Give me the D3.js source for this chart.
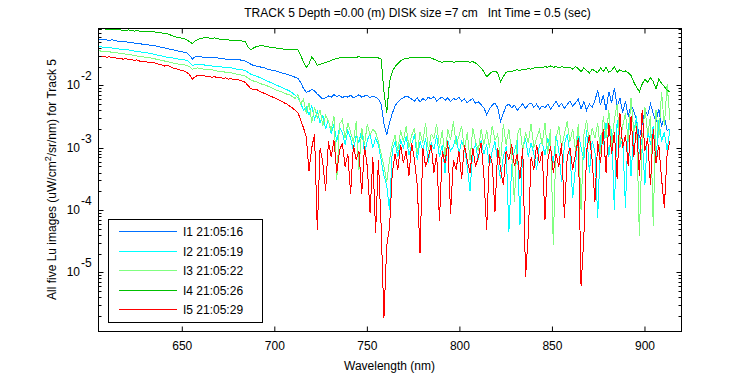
<!DOCTYPE html>
<html>
<head>
<meta charset="utf-8">
<script src="https://cdn.jsdelivr.net/npm/d3@7"></script>
<style>
  body { margin: 0; background: #fff; }
  svg text { font-family: "Liberation Sans", Arial, sans-serif; fill: #000; }
</style>
</head>
<body>
<div id="chart"></div>
<script>
// Wavelength grid (nm) and the five spectra, stored as log10 of Lu
const wavelength = d3.range(605, 915, 1.5);
const seriesNames = ["I1 21:05:16", "I2 21:05:19", "I3 21:05:22", "I4 21:05:26", "I5 21:05:29"];
const seriesColors = ["#0070ff", "#00ffff", "#80ff80", "#00c000", "#ff0000"];
const xTicks = [650, 700, 750, 800, 850, 900];
const yTickExps = [-5, -4, -3, -2];

const i1Log = [
  -1.26,-1.26,-1.27,-1.27,-1.28,-1.27,-1.28,-1.29,-1.29,-1.30,
  -1.30,-1.31,-1.32,-1.32,-1.33,-1.33,-1.34,-1.35,-1.35,-1.36,
  -1.36,-1.37,-1.38,-1.39,-1.40,-1.41,-1.42,-1.43,-1.44,-1.45,
  -1.46,-1.47,-1.48,-1.52,-1.58,-1.54,-1.53,-1.54,-1.55,-1.55,
  -1.55,-1.55,-1.56,-1.56,-1.57,-1.57,-1.58,-1.58,-1.58,-1.59,
  -1.59,-1.59,-1.60,-1.61,-1.63,-1.66,-1.68,-1.69,-1.70,-1.71,
  -1.72,-1.74,-1.75,-1.76,-1.77,-1.78,-1.80,-1.81,-1.82,-1.84,
  -1.85,-1.87,-1.89,-1.95,-2.05,-2.11,-2.10,-2.06,-2.09,-2.14,
  -2.18,-2.22,-2.20,-2.17,-2.19,-2.15,-2.18,-2.16,-2.20,-2.17,
  -2.19,-2.16,-2.20,-2.18,-2.15,-2.19,-2.17,-2.16,-2.20,-2.17,
  -2.19,-2.22,-2.30,-2.62,-2.80,-2.60,-2.45,-2.33,-2.27,-2.22,
  -2.20,-2.17,-2.19,-2.22,-2.25,-2.20,-2.27,-2.21,-2.24,-2.19,
  -2.22,-2.18,-2.25,-2.21,-2.19,-2.24,-2.20,-2.26,-2.21,-2.23,
  -2.19,-2.25,-2.22,-2.28,-2.24,-2.21,-2.29,-2.26,-2.31,-2.36,
  -2.47,-2.38,-2.32,-2.28,-2.36,-2.58,-2.45,-2.33,-2.30,-2.36,
  -2.32,-2.40,-2.35,-2.29,-2.37,-2.31,-2.28,-2.35,-2.30,-2.38,
  -2.33,-2.36,-2.30,-2.38,-2.32,-2.26,-2.34,-2.29,-2.37,-2.31,
  -2.25,-2.33,-2.28,-2.22,-2.38,-2.26,-2.40,-2.30,-2.35,-2.24,
  -2.08,-2.32,-2.15,-2.40,-2.10,-2.28,-2.04,-2.35,-2.20,-2.44,
  -2.25,-2.50,-2.30,-2.42,-2.55,-2.85,-2.62,-2.40,-2.48,-2.30,
  -2.45,-2.58,-2.38,-2.66,-2.50,-2.72,-2.70
];

const i2Log = [
  -1.38,-1.38,-1.39,-1.39,-1.40,-1.40,-1.41,-1.41,-1.42,-1.42,
  -1.43,-1.43,-1.44,-1.45,-1.45,-1.46,-1.47,-1.47,-1.48,-1.49,
  -1.50,-1.51,-1.52,-1.53,-1.54,-1.55,-1.55,-1.56,-1.57,-1.58,
  -1.58,-1.59,-1.60,-1.63,-1.68,-1.67,-1.66,-1.67,-1.67,-1.68,
  -1.68,-1.69,-1.69,-1.70,-1.70,-1.71,-1.71,-1.72,-1.72,-1.73,
  -1.74,-1.74,-1.75,-1.76,-1.79,-1.82,-1.84,-1.85,-1.87,-1.89,
  -1.91,-1.93,-1.95,-1.97,-1.99,-2.01,-2.03,-2.05,-2.07,-2.09,
  -2.12,-2.16,-2.20,-2.28,-2.40,-2.35,-2.48,-2.32,-2.55,-2.42,
  -2.60,-2.48,-2.70,-2.55,-2.78,-2.62,-2.90,-2.68,-2.75,-2.95,
  -2.72,-2.85,-3.05,-2.80,-2.92,-2.70,-3.10,-2.88,-2.78,-3.00,
  -2.85,-2.95,-3.20,-3.45,-3.60,-4.00,-3.05,-2.90,-3.15,-2.88,
  -3.00,-2.82,-3.12,-2.95,-2.78,-3.20,-2.90,-3.05,-2.85,-3.25,
  -2.92,-3.02,-2.80,-3.15,-2.95,-3.40,-2.88,-3.05,-2.98,-2.82,
  -3.10,-2.90,-3.00,-3.30,-3.70,-3.05,-2.95,-3.20,-2.88,-3.10,
  -2.95,-3.30,-3.05,-2.90,-3.25,-3.50,-3.15,-2.98,-4.35,-3.30,
  -3.05,-2.88,-4.24,-3.00,-2.85,-3.15,-2.92,-3.10,-3.35,-2.95,
  -2.90,-3.12,-2.85,-3.00,-3.25,-2.80,-3.05,-3.55,-2.95,-2.78,
  -3.10,-3.81,-3.30,-2.75,-3.00,-3.20,-2.72,-3.40,-2.90,-3.05,
  -4.12,-2.80,-2.95,-2.60,-3.15,-2.70,-4.00,-2.55,-3.00,-2.85,
  -3.96,-2.60,-3.45,-2.75,-2.50,-3.10,-2.85,-3.60,-2.70,-2.95,
  -2.65,-3.20,-2.55,-2.90,-2.75,-3.05,-2.70
];

const i3Log = [
  -1.44,-1.45,-1.45,-1.46,-1.46,-1.47,-1.47,-1.48,-1.49,-1.49,
  -1.50,-1.51,-1.51,-1.52,-1.53,-1.53,-1.54,-1.55,-1.55,-1.56,
  -1.57,-1.58,-1.59,-1.60,-1.61,-1.62,-1.63,-1.64,-1.65,-1.66,
  -1.67,-1.67,-1.68,-1.70,-1.74,-1.73,-1.72,-1.73,-1.74,-1.74,
  -1.75,-1.75,-1.76,-1.77,-1.77,-1.78,-1.79,-1.80,-1.80,-1.81,
  -1.82,-1.83,-1.84,-1.85,-1.88,-1.91,-1.93,-1.94,-1.96,-1.98,
  -1.99,-2.01,-2.03,-2.05,-2.07,-2.09,-2.10,-2.12,-2.14,-2.15,
  -2.18,-2.21,-2.15,-2.30,-2.22,-2.45,-2.28,-2.60,-2.35,-2.52,
  -2.40,-2.65,-2.48,-2.58,-2.72,-2.50,-3.52,-2.62,-2.55,-2.85,
  -2.60,-2.75,-2.92,-2.58,-3.36,-2.68,-2.95,-2.62,-2.80,-2.70,
  -2.75,-2.90,-3.10,-3.30,-3.55,-3.20,-2.95,-2.80,-3.05,-2.72,
  -2.90,-2.65,-3.00,-2.80,-2.68,-3.10,-2.75,-2.92,-2.60,-3.05,
  -2.78,-2.85,-2.62,-3.00,-2.72,-3.15,-2.70,-2.88,-2.58,-2.95,
  -2.82,-2.65,-3.05,-2.75,-3.20,-2.68,-2.90,-3.05,-2.70,-2.95,
  -2.72,-3.00,-2.65,-2.88,-2.78,-3.25,-2.62,-2.95,-2.70,-3.10,
  -3.87,-2.80,-2.68,-3.05,-2.75,-2.92,-2.62,-3.00,-2.85,-2.72,
  -2.95,-2.60,-3.10,-2.70,-4.56,-2.85,-2.65,-3.00,-2.78,-2.58,
  -2.90,-2.70,-3.05,-2.62,-4.00,-2.80,-2.55,-2.95,-2.68,-2.85,
  -2.60,-3.10,-2.50,-2.85,-2.40,-3.00,-2.55,-2.30,-2.95,-2.65,
  -2.45,-2.90,-2.20,-2.75,-2.60,-4.41,-2.95,-2.35,-2.80,-2.50,
  -4.25,-2.40,-2.85,-2.10,-2.65,-1.98,-2.55
];

const i4Log = [
  -1.09,-1.10,-1.09,-1.10,-1.10,-1.11,-1.10,-1.11,-1.11,-1.12,
  -1.12,-1.11,-1.12,-1.13,-1.12,-1.13,-1.13,-1.14,-1.13,-1.14,
  -1.14,-1.15,-1.15,-1.16,-1.17,-1.17,-1.19,-1.21,-1.22,-1.24,
  -1.24,-1.25,-1.27,-1.30,-1.33,-1.29,-1.26,-1.25,-1.24,-1.24,
  -1.24,-1.25,-1.24,-1.25,-1.26,-1.26,-1.27,-1.27,-1.28,-1.28,
  -1.28,-1.28,-1.29,-1.30,-1.38,-1.43,-1.40,-1.38,-1.37,-1.36,
  -1.37,-1.38,-1.39,-1.40,-1.40,-1.41,-1.41,-1.42,-1.42,-1.42,
  -1.42,-1.43,-1.43,-1.52,-1.62,-1.71,-1.66,-1.54,-1.60,-1.68,
  -1.66,-1.65,-1.63,-1.62,-1.60,-1.58,-1.57,-1.56,-1.55,-1.55,
  -1.55,-1.56,-1.55,-1.55,-1.54,-1.55,-1.55,-1.56,-1.55,-1.55,
  -1.55,-1.56,-1.58,-2.10,-2.44,-1.95,-1.78,-1.70,-1.65,-1.61,
  -1.58,-1.57,-1.56,-1.56,-1.55,-1.56,-1.55,-1.56,-1.55,-1.56,
  -1.56,-1.58,-1.60,-1.62,-1.63,-1.61,-1.62,-1.61,-1.63,-1.62,
  -1.61,-1.62,-1.62,-1.61,-1.63,-1.62,-1.64,-1.68,-1.72,-1.78,
  -1.86,-1.82,-1.78,-1.77,-1.80,-1.94,-1.86,-1.79,-1.77,-1.78,
  -1.76,-1.75,-1.76,-1.74,-1.75,-1.73,-1.74,-1.72,-1.72,-1.71,
  -1.72,-1.70,-1.71,-1.69,-1.71,-1.70,-1.72,-1.70,-1.71,-1.72,
  -1.71,-1.74,-1.70,-1.73,-1.78,-1.72,-1.76,-1.80,-1.74,-1.77,
  -1.80,-1.72,-1.78,-1.71,-1.79,-1.76,-1.70,-1.79,-1.75,-1.78,
  -1.77,-1.80,-1.84,-1.95,-2.03,-2.10,-1.98,-1.90,-1.95,-1.88,
  -1.94,-2.06,-1.90,-1.97,-2.02,-2.08,-2.10
];

const i5Log = [
  -1.52,-1.54,-1.53,-1.55,-1.54,-1.56,-1.55,-1.57,-1.56,-1.58,
  -1.57,-1.59,-1.58,-1.60,-1.59,-1.61,-1.62,-1.61,-1.63,-1.64,
  -1.63,-1.65,-1.66,-1.67,-1.69,-1.68,-1.70,-1.72,-1.73,-1.75,
  -1.76,-1.77,-1.79,-1.83,-1.90,-1.86,-1.84,-1.85,-1.84,-1.86,
  -1.85,-1.87,-1.86,-1.88,-1.87,-1.89,-1.88,-1.90,-1.89,-1.91,
  -1.90,-1.92,-1.93,-1.95,-2.00,-2.05,-2.07,-2.06,-2.09,-2.11,
  -2.13,-2.15,-2.17,-2.19,-2.21,-2.23,-2.25,-2.28,-2.30,-2.33,
  -2.36,-2.40,-2.44,-2.55,-2.68,-2.82,-3.37,-3.00,-2.78,-4.32,
  -3.00,-3.25,-3.69,-2.90,-3.15,-2.88,-3.40,-3.05,-2.92,-3.30,
  -3.10,-3.74,-2.95,-3.20,-3.05,-3.74,-2.98,-3.30,-4.05,-3.15,
  -4.36,-3.20,-4.27,-5.73,-4.57,-4.29,-3.40,-3.10,-3.35,-2.95,
  -3.25,-3.05,-3.45,-2.92,-3.20,-3.60,-4.69,-3.00,-3.30,-3.15,
  -2.95,-3.40,-3.10,-4.17,-3.05,-3.25,-2.90,-4.06,-3.20,-3.35,
  -3.05,-3.50,-2.95,-3.20,-3.40,-3.00,-3.30,-3.15,-2.92,-3.45,
  -4.32,-3.10,-3.25,-4.03,-3.00,-3.35,-3.60,-3.05,-3.20,-2.95,
  -3.30,-3.10,-3.50,-3.00,-5.07,-4.40,-3.15,-3.35,-2.95,-3.25,
  -3.05,-4.16,-3.20,-2.98,-3.40,-3.10,-3.30,-2.92,-4.12,-3.15,
  -3.00,-3.35,-3.10,-2.85,-5.22,-4.45,-3.05,-2.80,-3.20,-3.87,
  -2.90,-3.25,-2.70,-3.40,-2.60,-3.10,-2.75,-3.50,-2.45,-3.00,
  -2.80,-3.30,-2.50,-3.15,-2.65,-3.45,-2.40,-3.05,-2.85,-3.60,
  -2.70,-3.25,-2.95,-3.50,-3.96,-3.10,-2.90
];

const seriesLogs = [i1Log, i2Log, i3Log, i4Log, i5Log];

// Layout (plot box in page pixels)
const W = 750, H = 375;
const plot = { left: 98, right: 681, top: 28, bottom: 331 };

const svg = d3.select("#chart")
  .append("svg")
  .attr("width", W)
  .attr("height", H);

svg.append("rect").attr("width", W).attr("height", H).attr("fill", "#fff");

// Scales
const x = d3.scaleLinear()
  .domain([605, 920])
  .range([plot.left, plot.right]);

const y = d3.scaleLog()
  .domain([Math.pow(10, -5.94), Math.pow(10, -1.08)])
  .range([plot.bottom, plot.top]);

// Clip
svg.append("defs").append("clipPath")
  .attr("id", "clip")
  .append("rect")
  .attr("x", plot.left).attr("y", plot.top)
  .attr("width", plot.right - plot.left)
  .attr("height", plot.bottom - plot.top);

// Lines
const line = d3.line()
  .x(d => x(d.w))
  .y(d => y(d.v));

const series = seriesLogs.map((logs, k) => ({
  name: seriesNames[k],
  color: seriesColors[k],
  values: logs.map((v, i) => ({ w: wavelength[i], v: Math.pow(10, v) }))
}));

svg.append("g")
  .attr("clip-path", "url(#clip)")
  .selectAll("path")
  .data(series)
  .join("path")
  .attr("fill", "none")
  .attr("stroke", d => d.color)
  .attr("stroke-width", 1)
  .attr("shape-rendering", "crispEdges")
  .attr("d", d => line(d.values));

// Axes box
svg.append("rect")
  .attr("x", plot.left + 0.5).attr("y", plot.top + 0.5)
  .attr("width", plot.right - plot.left).attr("height", plot.bottom - plot.top)
  .attr("fill", "none")
  .attr("stroke", "#000")
  .attr("stroke-width", 1);

// X ticks (inward, bottom and top)
const xAxisBottom = d3.axisBottom(x).tickValues(xTicks).tickSize(-5).tickPadding(10);
const gxb = svg.append("g")
  .attr("transform", `translate(0.5,${plot.bottom + 0.5})`)
  .call(xAxisBottom);
gxb.select(".domain").remove();
gxb.selectAll("text").style("font-size", "12px").attr("font-family", null);

const gxt = svg.append("g")
  .attr("transform", `translate(0.5,${plot.top + 0.5})`)
  .call(d3.axisTop(x).tickValues(xTicks).tickSize(-5).tickFormat(""));
gxt.select(".domain").remove();

// Y ticks: majors and log minors on both sides
const yMajor = yTickExps.map(e => Math.pow(10, e));
const yMinor = [];
for (let e = -6; e <= -2; e++) {
  for (let k = 2; k <= 9; k++) {
    const v = k * Math.pow(10, e);
    if (v > y.domain()[0] && v < y.domain()[1]) yMinor.push(v);
  }
}

[["left", plot.left, 1], ["right", plot.right, -1]].forEach(([side, px, dir]) => {
  const g = svg.append("g").attr("class", "yticks-" + side);
  g.selectAll("line.major")
    .data(yMajor)
    .join("line")
    .attr("class", "major")
    .attr("x1", px + 0.5).attr("x2", px + 0.5 + dir * 5)
    .attr("y1", d => Math.round(y(d)) + 0.5).attr("y2", d => Math.round(y(d)) + 0.5)
    .attr("stroke", "#000");
  g.selectAll("line.minor")
    .data(yMinor)
    .join("line")
    .attr("class", "minor")
    .attr("x1", px + 0.5).attr("x2", px + 0.5 + dir * 3)
    .attr("y1", d => Math.round(y(d)) + 0.5).attr("y2", d => Math.round(y(d)) + 0.5)
    .attr("stroke", "#000");
});

// Y tick labels: 10 with superscript exponent
const yLab = svg.append("g");
yLab.selectAll("text.base")
  .data(yTickExps)
  .join("text")
  .attr("class", "base")
  .attr("x", 80)
  .attr("y", d => y(Math.pow(10, d)) + 4)
  .attr("text-anchor", "end")
  .style("font-size", "12px")
  .text("10");
yLab.selectAll("text.exp")
  .data(yTickExps)
  .join("text")
  .attr("class", "exp")
  .attr("x", 81)
  .attr("y", d => y(Math.pow(10, d)) - 5)
  .style("font-size", "12px")
  .text(d => "-" + Math.abs(d));

// Title
svg.append("text")
  .attr("x", (plot.left + plot.right) / 2 + 28)
  .attr("y", 17)
  .attr("text-anchor", "middle")
  .style("font-size", "12px")
  .style("white-space", "pre")
  .text("TRACK 5 Depth =0.00 (m) DISK size =7 cm   Int Time = 0.5 (sec)");

// X label
svg.append("text")
  .attr("x", (plot.left + plot.right) / 2)
  .attr("y", 370)
  .attr("text-anchor", "middle")
  .style("font-size", "12px")
  .text("Wavelength (nm)");

// Y label
const yl = svg.append("text")
  .attr("transform", `translate(56,${(plot.top + plot.bottom) / 2}) rotate(-90)`)
  .attr("text-anchor", "middle")
  .style("font-size", "12px");
yl.append("tspan").text("All five Lu images (uW/cm");
yl.append("tspan").attr("dy", -5).style("font-size", "9px").text("2");
yl.append("tspan").attr("dy", 5).text("/sr/nm) for Track 5");

// Legend
const legend = svg.append("g").attr("class", "legend");
legend.append("rect")
  .attr("x", 108.5).attr("y", 219.5)
  .attr("width", 154).attr("height", 103)
  .attr("fill", "#fff")
  .attr("stroke", "#000");

const rowY = d3.scalePoint()
  .domain(seriesNames)
  .range([231, 309]);

legend.selectAll("line.key")
  .data(series)
  .join("line")
  .attr("class", "key")
  .attr("x1", 119).attr("x2", 177)
  .attr("y1", d => Math.round(rowY(d.name)) + 0.5)
  .attr("y2", d => Math.round(rowY(d.name)) + 0.5)
  .attr("shape-rendering", "crispEdges")
  .attr("stroke-width", 1)
  .style("stroke", d => d.color);

legend.selectAll("text.key")
  .data(series)
  .join("text")
  .attr("class", "key")
  .attr("x", 183)
  .attr("y", d => Math.round(rowY(d.name)) + 5)
  .style("font-size", "12px")
  .text(d => d.name);
</script>
</body>
</html>
